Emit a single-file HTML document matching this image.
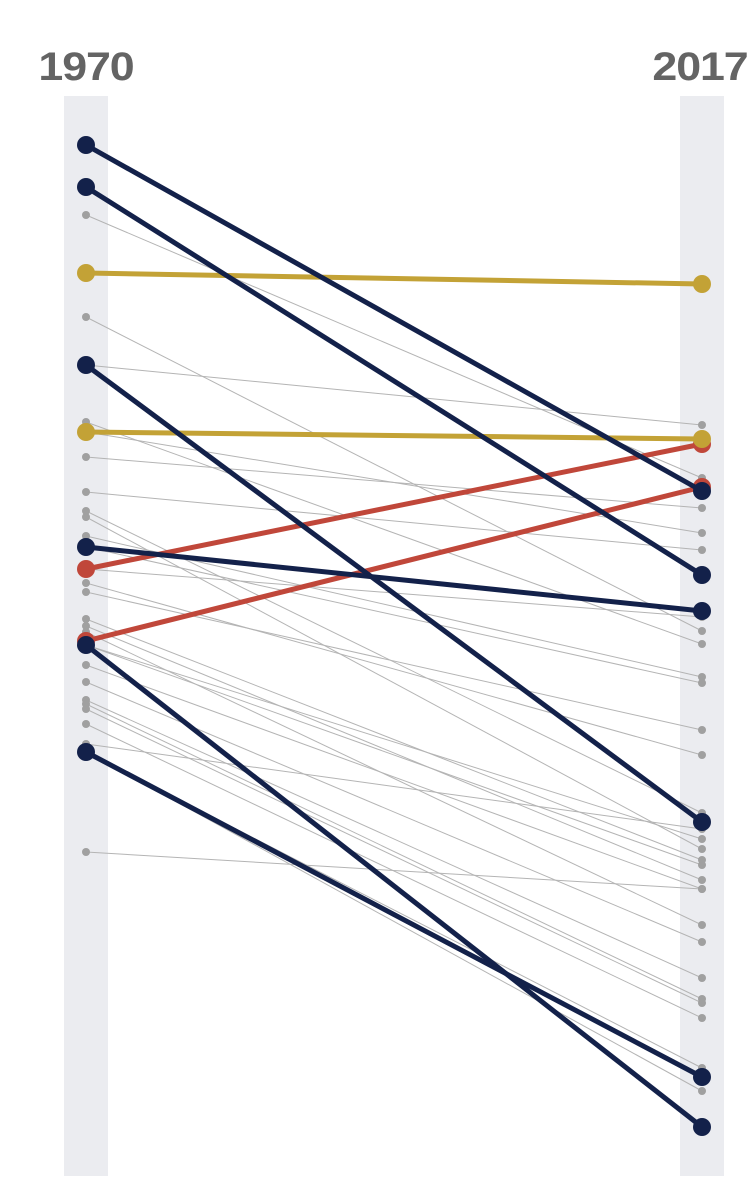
<!DOCTYPE html>
<html><head><meta charset="utf-8"><style>
html,body{margin:0;padding:0;background:#fff;}
svg{display:block;}
</style></head><body>
<svg id="chart" width="754" height="1200" viewBox="0 0 754 1200" xmlns="http://www.w3.org/2000/svg">
<rect x="64" y="96" width="44" height="1080" fill="#ebecf0"/>
<rect x="680" y="96" width="44" height="1080" fill="#ebecf0"/>
<text x="86" y="80" text-anchor="middle" font-family="Liberation Sans, sans-serif" font-weight="bold" font-size="40" fill="#646464" letter-spacing="-1" transform="translate(86 0) scale(1.12 1) translate(-86 0)">1970</text>
<text x="700" y="80" text-anchor="middle" font-family="Liberation Sans, sans-serif" font-weight="bold" font-size="40" fill="#646464" letter-spacing="-1" transform="translate(700 0) scale(1.12 1) translate(-700 0)">2017</text>
<g id="gray"></g><g id="hl"></g>
</svg>
<script>
const grayStart=[93.5,83.3,78.5,72.8,69.3,65.8,63.9,63.3,61.4,60.3,56.7,55.8,53.1,52.4,51.8,50.5,50.5,48.5,46.8,45,44.6,44.1,42.6,40.6,39.8,39.8,29.8,71.8,58.1];
const grayEnd=[67.2,51.9,72.5,50.6,64.2,60,33.7,30.1,47.3,46.7,39.5,42,29,27,22.5,31.1,28.5,26.1,20.8,17.2,15.1,14.7,13.2,32.1,8.2,5.9,26.1,61.7,53.3];
const hlStart=[100.5,96.3,78.5,60.3,50.5,39.8,87.7,71.8,58.1,50.9];
const hlEnd=[65.9,57.5,32.8,53.9,2.3,7.3,86.6,71.1,70.6,66.3];
const hlColor=["#13214a","#13214a","#13214a","#13214a","#13214a","#13214a","#c3a236","#c3a236","#c0473a","#c0473a"];
const x1=86,x2=702;
function y(v){return 1150-v*10;}
const NS="http://www.w3.org/2000/svg";
function mk(t,a,p){const e=document.createElementNS(NS,t);for(const k in a)e.setAttribute(k,a[k]);p.appendChild(e);return e;}
const g=document.getElementById('gray'),h=document.getElementById('hl');
grayStart.forEach((s,i)=>{
 const l=mk('line',{x1:x1,y1:y(s),x2:x2,y2:y(grayEnd[i]),stroke:'#b4b4b4','stroke-width':1},g);
 
 
 const a=mk('circle',{cx:x1,cy:y(s),r:4,fill:'#a0a0a0'},g);
 
 
 const b=mk('circle',{cx:x2,cy:y(grayEnd[i]),r:4,fill:'#a0a0a0'},g);
 
 
});
[8,9,6,7,0,1,2,3,4,5].forEach(i=>{
 const c=hlColor[i];
 const l=mk('line',{x1:x1,y1:y(hlStart[i]),x2:x2,y2:y(hlEnd[i]),stroke:c,'stroke-width':5},h);
 
 
 const a=mk('circle',{cx:x1,cy:y(hlStart[i]),r:9,fill:c},h);
 
 
 const b=mk('circle',{cx:x2,cy:y(hlEnd[i]),r:9,fill:c},h);
 
 
});
</script>
</body></html>
